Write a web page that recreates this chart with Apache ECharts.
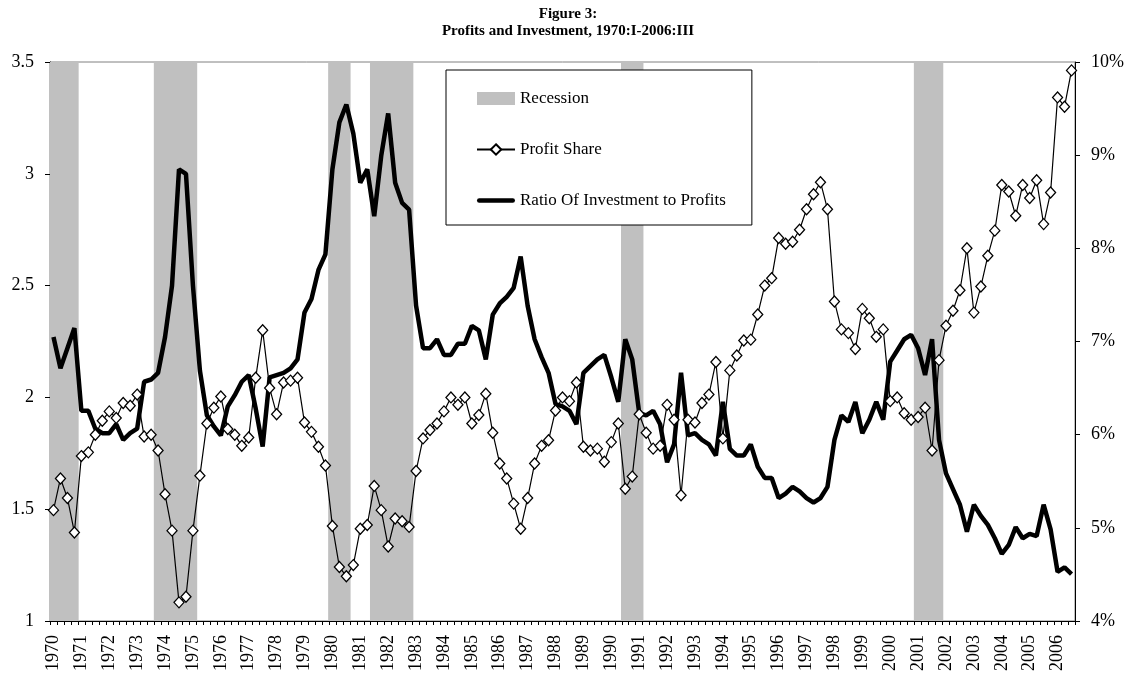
<!DOCTYPE html>
<html><head><meta charset="utf-8">
<script src="https://cdn.jsdelivr.net/npm/echarts@6/dist/echarts.min.js"></script>
<style>html,body{margin:0;padding:0;background:#fff}#chart{width:1132px;height:683px}</style>
</head><body><div id="chart"></div>
<script>
// Quarters 1970:I .. 2006:III
const firstYear = 1970, lastYear = 2006, lastQuarter = 3;
const quarterNames = ['I', 'II', 'III', 'IV'];
const categories = [];
for (let y = firstYear; y <= lastYear; y++) {
  for (let q = 0; q < 4; q++) {
    if (y === lastYear && q >= lastQuarter) break;
    categories.push(y + ':' + quarterNames[q]);
  }
}

// Profit share (%), right axis
const profitShare = [
  5.19, 5.53, 5.32, 4.95, 5.77, 5.81, 6.00, 6.15, 6.25, 6.18,
  6.34, 6.31, 6.43, 5.98, 6.00, 5.83, 5.36, 4.97, 4.20, 4.26,
  4.97, 5.56, 6.12, 6.29, 6.41, 6.06, 6.00, 5.88, 5.97, 6.61,
  7.12, 6.50, 6.22, 6.56, 6.58, 6.61, 6.13, 6.03, 5.87, 5.67,
  5.02, 4.58, 4.48, 4.60, 4.99, 5.03, 5.45, 5.19, 4.80, 5.10,
  5.07, 5.01, 5.61, 5.96, 6.05, 6.12, 6.25, 6.40, 6.32, 6.40,
  6.12, 6.21, 6.44, 6.02, 5.69, 5.53, 5.26, 4.99, 5.32, 5.69,
  5.88, 5.94, 6.26, 6.40, 6.36, 6.56, 5.87, 5.83, 5.85, 5.71,
  5.92, 6.12, 5.42, 5.55, 6.22, 6.02, 5.85, 5.88, 6.32, 6.16,
  5.35, 6.16, 6.13, 6.34, 6.43, 6.78, 5.96, 6.69, 6.85, 7.01,
  7.02, 7.29, 7.60, 7.68, 8.11, 8.05, 8.07, 8.20, 8.42, 8.58,
  8.71, 8.42, 7.43, 7.13, 7.09, 6.92, 7.35, 7.25, 7.05, 7.13,
  6.36, 6.40, 6.23, 6.16, 6.19, 6.29, 5.83, 6.80, 7.17, 7.33,
  7.55, 8.00, 7.31, 7.59, 7.92, 8.19, 8.68, 8.61, 8.35, 8.68,
  8.54, 8.73, 8.26, 8.60, 9.62, 9.52, 9.91
];

// Ratio of investment to profits, left axis
const investRatio = [
  2.27, 2.13, 2.22, 2.31, 1.94, 1.94, 1.86, 1.84, 1.84, 1.88,
  1.81, 1.84, 1.86, 2.07, 2.08, 2.11, 2.27, 2.50, 3.02, 3.00,
  2.50, 2.12, 1.92, 1.87, 1.83, 1.96, 2.01, 2.07, 2.10, 1.95,
  1.78, 2.09, 2.10, 2.11, 2.13, 2.17, 2.38, 2.44, 2.57, 2.64,
  3.02, 3.23, 3.31, 3.18, 2.96, 3.02, 2.81, 3.08, 3.27, 2.96,
  2.87, 2.84, 2.41, 2.22, 2.22, 2.26, 2.19, 2.19, 2.24, 2.24,
  2.32, 2.30, 2.17, 2.37, 2.42, 2.45, 2.49, 2.63, 2.41, 2.26,
  2.18, 2.11, 1.97, 1.96, 1.94, 1.88, 2.11, 2.14, 2.17, 2.19,
  2.09, 1.98, 2.26, 2.17, 1.93, 1.92, 1.94, 1.88, 1.71, 1.79,
  2.11, 1.83, 1.84, 1.81, 1.79, 1.74, 1.98, 1.77, 1.74, 1.74,
  1.79, 1.69, 1.64, 1.64, 1.55, 1.57, 1.60, 1.58, 1.55, 1.53,
  1.55, 1.60, 1.81, 1.92, 1.89, 1.98, 1.84, 1.90, 1.98, 1.90,
  2.16, 2.21, 2.26, 2.28, 2.22, 2.10, 2.26, 1.81, 1.66, 1.59,
  1.52, 1.40, 1.52, 1.47, 1.43, 1.37, 1.30, 1.34, 1.42, 1.37,
  1.39, 1.38, 1.52, 1.41, 1.22, 1.24, 1.21
];

// Recession periods (first and last quarter)
const recessions = [
  ['1970:I', '1970:IV'], ['1973:IV', '1975:I'], ['1980:I', '1980:III'],
  ['1981:III', '1982:IV'], ['1990:III', '1991:I'], ['2001:I', '2001:IV']
];
const recessionTop = 3.5;

const recessionData = categories.map(function (c, i) {
  for (const r of recessions) {
    if (i >= categories.indexOf(r[0]) && i <= categories.indexOf(r[1])) return recessionTop;
  }
  return '-';
});

const FONT = '"Liberation Serif", "Times New Roman", serif';
const chart = echarts.init(document.getElementById('chart'));
chart.setOption({
  animation: false,
  backgroundColor: '#fff',
  title: {
    text: 'Figure 3:\nProfits and Investment, 1970:I-2006:III',
    left: 563, textAlign: 'center', top: 1,
    textStyle: { fontFamily: FONT, fontSize: 15, fontWeight: 'bold', color: '#000', lineHeight: 17 }
  },
  legend: {
    orient: 'vertical', left: 446, top: 70,
    padding: [20, 26, 16, 30], itemGap: 34,
    itemWidth: 38, itemHeight: 13,
    backgroundColor: '#fff', borderColor: '#000', borderWidth: 1,
    textStyle: { fontFamily: FONT, fontSize: 17, color: '#000' },
    data: [
      { name: 'Recession', icon: 'rect' },
      'Profit Share',
      { name: 'Ratio Of Investment to Profits', icon: 'path://M2,0 L36,0 A2,2 0 0 1 36,4.5 L2,4.5 A2,2 0 0 1 2,0 Z' }
    ]
  },
  grid: { left: 50, right: 57, top: 62, bottom: 62, show: true, borderColor: '#808080', borderWidth: 1 },
  xAxis: {
    type: 'category', data: categories, boundaryGap: true,
    axisLine: { lineStyle: { color: '#000', width: 1 } },
    axisTick: { show: true, interval: 0, length: 4, lineStyle: { color: '#000' } },
    axisLabel: {
      interval: 3, rotate: 90, margin: 14,
      fontFamily: FONT, fontSize: 18, color: '#000',
      formatter: function (v) { return v.split(':')[0]; }
    },
    splitLine: { show: false }
  },
  yAxis: [
    {
      type: 'value', min: 1, max: 3.5, interval: 0.5, position: 'left',
      axisLine: { show: true, lineStyle: { color: '#000' } },
      axisTick: { show: true, length: 5, lineStyle: { color: '#000' } },
      axisLabel: { fontFamily: FONT, fontSize: 18, color: '#000', margin: 16 },
      splitLine: { show: false }
    },
    {
      type: 'value', min: 4, max: 10, interval: 1, position: 'right',
      axisLine: { show: true, lineStyle: { color: '#000' } },
      axisTick: { show: true, length: 5, lineStyle: { color: '#000' } },
      axisLabel: { fontFamily: FONT, fontSize: 18, color: '#000', margin: 16, formatter: '{value}%' },
      splitLine: { show: false }
    }
  ],
  series: [
    {
      name: 'Recession', type: 'bar', yAxisIndex: 0, data: recessionData,
      barWidth: 8.5, barGap: '-100%',
      itemStyle: { color: '#c0c0c0' },
      z: 1, silent: true
    },
    {
      name: 'Ratio Of Investment to Profits', type: 'line', yAxisIndex: 0, data: investRatio,
      symbol: 'none', lineStyle: { color: '#000', width: 4.5 }, itemStyle: { color: '#000' }, z: 2
    },
    {
      name: 'Profit Share', type: 'line', yAxisIndex: 1, data: profitShare,
      symbol: 'diamond', symbolSize: [10, 11], showAllSymbol: true,
      lineStyle: { color: '#000', width: 1.2 },
      itemStyle: { color: '#fff', borderColor: '#000', borderWidth: 1.3 }, z: 3
    }
  ]
});
</script>
</body></html>
